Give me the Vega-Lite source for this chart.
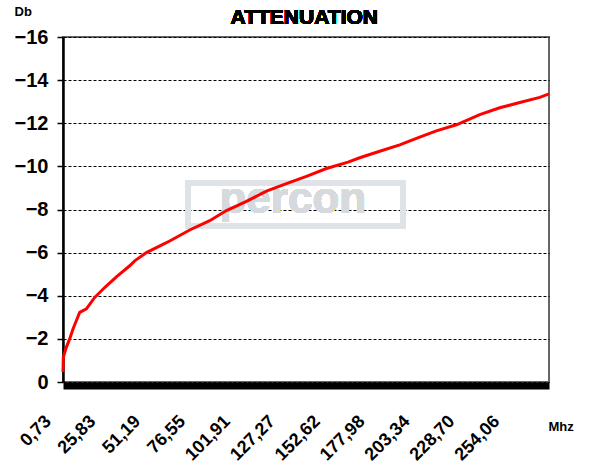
{
  "$schema": "https://vega.github.io/schema/vega-lite/v6.json",
  "width": 486,
  "height": 345,
  "autosize": {"type": "none"},
  "padding": {"left": 63, "top": 37, "right": 40, "bottom": 86},
  "background": "white",
  "config": {"view": {"stroke": "#666666", "strokeWidth": 2}, "font": "Liberation Sans"},
  "data": {"values": [
    {"mhz": 0.73, "db": -0.46},
    {"mhz": 0.9, "db": -1.15},
    {"mhz": 2.65, "db": -1.62},
    {"mhz": 4.51, "db": -2.0},
    {"mhz": 6.38, "db": -2.46},
    {"mhz": 8.3, "db": -2.85},
    {"mhz": 10.16, "db": -3.23},
    {"mhz": 13.95, "db": -3.39},
    {"mhz": 18.63, "db": -3.92},
    {"mhz": 24.28, "db": -4.38},
    {"mhz": 30.89, "db": -4.88},
    {"mhz": 38.4, "db": -5.39},
    {"mhz": 41.23, "db": -5.62},
    {"mhz": 47.83, "db": -6.0},
    {"mhz": 56.31, "db": -6.35},
    {"mhz": 61.0, "db": -6.54},
    {"mhz": 72.29, "db": -7.05},
    {"mhz": 83.59, "db": -7.48},
    {"mhz": 93.02, "db": -7.95},
    {"mhz": 104.32, "db": -8.38},
    {"mhz": 115.61, "db": -8.85},
    {"mhz": 126.91, "db": -9.2},
    {"mhz": 138.21, "db": -9.54},
    {"mhz": 149.5, "db": -9.9},
    {"mhz": 161.7, "db": -10.2},
    {"mhz": 168.3, "db": -10.4},
    {"mhz": 179.6, "db": -10.7},
    {"mhz": 190.9, "db": -11.0},
    {"mhz": 200.3, "db": -11.3},
    {"mhz": 211.6, "db": -11.65},
    {"mhz": 222.9, "db": -11.93},
    {"mhz": 236.1, "db": -12.4},
    {"mhz": 247.4, "db": -12.72},
    {"mhz": 258.7, "db": -12.96},
    {"mhz": 270.0, "db": -13.2},
    {"mhz": 275.2, "db": -13.36}
  ]},
  "layer": [
    {
      "mark": {"type": "rect", "fill": null, "stroke": "#dfe3e7", "strokeWidth": 5},
      "encoding": {
        "x": {"datum": 71.2, "type": "quantitative"},
        "x2": {"datum": 192.6},
        "y": {"datum": -9.22, "type": "quantitative"},
        "y2": {"datum": -7.23}
      }
    },
    {
      "mark": {"type": "text", "text": "percon", "fontSize": 44, "fontWeight": "bold", "color": "#d6dade", "align": "center", "baseline": "alphabetic"},
      "encoding": {
        "x": {"datum": 130.5, "type": "quantitative"},
        "y": {"datum": -7.83, "type": "quantitative"}
      }
    },
    {
      "mark": {"type": "text", "text": "ATTENUATION", "fontSize": 21, "fontWeight": "bold", "font": "Liberation Sans", "color": "black", "align": "center", "baseline": "alphabetic"},
      "encoding": {
        "x": {"datum": 137, "type": "quantitative"},
        "y": {"datum": -16.6, "type": "quantitative"}
      }
    },
    {
      "mark": {"type": "line", "color": "#ff0000", "strokeWidth": 3},
      "encoding": {
        "x": {
          "field": "mhz", "type": "quantitative",
          "scale": {"domain": [0.73, 275.2], "nice": false, "zero": false},
          "axis": {
            "values": [0.73, 25.83, 51.19, 76.55, 101.91, 127.27, 152.62, 177.98, 203.34, 228.70, 254.06],
            "labelExpr": "replace(format(datum.value, '.2f'), '.', ',')",
            "labelAngle": -45, "labelAlign": "right", "labelBaseline": "middle",
            "labelPadding": 33, "labelOffset": -15,
            "ticks": false, "grid": false,
            "domainColor": "black", "domainWidth": 7, "offset": 3.5,
            "labelFont": "Liberation Sans", "labelFontSize": 18, "labelFontWeight": "bold", "labelColor": "black",
            "labelOverlap": false, "labelFlush": false,
            "title": "Mhz", "titleX": 485, "titleY": 44.5, "titleAlign": "left", "titleBaseline": "alphabetic",
            "titleFont": "Liberation Sans", "titleFontSize": 13, "titleFontWeight": "bold", "titleColor": "black"
          }
        },
        "y": {
          "field": "db", "type": "quantitative",
          "scale": {"domain": [-16, 0], "reverse": true, "nice": false, "zero": false},
          "axis": {
            "values": [-16, -14, -12, -10, -8, -6, -4, -2, 0],
            "title": "Db", "titleAngle": 0, "titleX": -49, "titleY": -22, "titleAlign": "left", "titleBaseline": "alphabetic",
            "titleFont": "Liberation Sans", "titleFontSize": 13, "titleFontWeight": "bold", "titleColor": "black",
            "labelFont": "Liberation Sans", "labelFontSize": 20, "labelFontWeight": "bold", "labelColor": "black", "labelPadding": 9,
            "tickSize": 6, "tickColor": "black", "tickWidth": 1.5,
            "domainColor": "black", "domainWidth": 2.5,
            "grid": true, "gridColor": "black", "gridDash": [3, 2], "gridWidth": 1, "gridOpacity": 1
          }
        }
      }
    }
  ]
}
